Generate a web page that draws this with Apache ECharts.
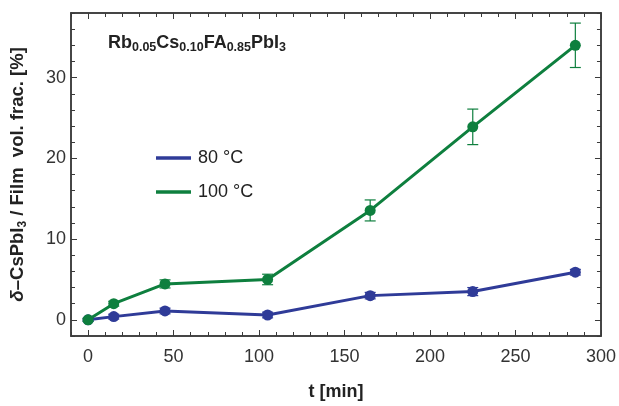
<!DOCTYPE html>
<html>
<head>
<meta charset="utf-8">
<script src="https://cdn.jsdelivr.net/npm/echarts@6/dist/echarts.min.js"></script>
<style>
  html, body { margin: 0; padding: 0; background: #fff; }
  #chart { width: 619px; height: 406px; }
</style>
</head>
<body>
<div id="chart"></div>
<script>
// Annealing time points [min]
const times = [0, 15, 45, 105, 165, 225, 285];
// delta-CsPbI3 volume fraction [%] and uncertainties
const series80 = [0, 0.4, 1.1, 0.6, 3.0, 3.5, 5.9];
const err80 = [0.15, 0.3, 0.35, 0.35, 0.4, 0.5, 0.35];
const series100 = [0, 2.0, 4.45, 5.0, 13.55, 23.9, 34.0];
const err100 = [0.2, 0.3, 0.5, 0.65, 1.3, 2.2, 2.75];
const seriesNames = ['80 °C', '100 °C'];

// Tick positions
const xMajorTicks = [0, 50, 100, 150, 200, 250, 300];
const xMinorTicks = [-10, 0, 10, 20, 30, 40, 50, 60, 70, 80, 90, 100, 110, 120, 130, 140, 150,
  160, 170, 180, 190, 200, 210, 220, 230, 240, 250, 260, 270, 280, 290, 300];
const yMajorTicks = [0, 10, 20, 30];
const yMinorTicks = [-2, 0, 2, 4, 6, 8, 10, 12, 14, 16, 18, 20, 22, 24, 26, 28, 30, 32, 34, 36, 38];

const BLUE = '#2f3b98';
const GREEN = '#0e7f3e';
const AXIS = '#3a3a3a';
const FONT = '"Liberation Sans", Arial, sans-serif';

const pairs = (ys) => times.map((t, i) => [t, ys[i]]);
const errRows = (ys, es) => times.map((t, i) => [t, ys[i] - es[i], ys[i] + es[i]]);

function errorBar(color) {
  return function (params, api) {
    const x = api.value(0);
    const lo = api.coord([x, api.value(1)]);
    const hi = api.coord([x, api.value(2)]);
    const w = 5.5;
    const style = { stroke: color, lineWidth: 1.2 };
    return {
      type: 'group',
      children: [
        { type: 'line', shape: { x1: lo[0], y1: lo[1], x2: hi[0], y2: hi[1] }, style },
        { type: 'line', shape: { x1: lo[0] - w, y1: lo[1], x2: lo[0] + w, y2: lo[1] }, style },
        { type: 'line', shape: { x1: hi[0] - w, y1: hi[1], x2: hi[0] + w, y2: hi[1] }, style }
      ]
    };
  };
}

function xAx(pos, ticks, len, opts) {
  return Object.assign({
    type: 'value', position: pos, min: -10, max: 300,
    axisLine: { show: true, onZero: false, lineStyle: { color: AXIS, width: 1.5 } },
    axisTick: { show: true, inside: true, length: len, customValues: ticks, lineStyle: { color: AXIS, width: 1 } },
    axisLabel: { show: false },
    splitLine: { show: false }
  }, opts || {});
}
function yAx(pos, ticks, len, opts) {
  return Object.assign({
    type: 'value', position: pos, min: -2, max: 38,
    axisLine: { show: true, onZero: false, lineStyle: { color: AXIS, width: 1.5 } },
    axisTick: { show: true, inside: true, length: len, customValues: ticks, lineStyle: { color: AXIS, width: 1 } },
    axisLabel: { show: false },
    splitLine: { show: false }
  }, opts || {});
}

const chart = echarts.init(document.getElementById('chart'), null, { renderer: 'canvas' });

chart.setOption({
  animation: false,
  backgroundColor: '#fff',
  textStyle: { fontFamily: FONT },
  grid: { left: 71, right: 16, top: 13, bottom: 65 },
  title: {
    left: 108, top: 32, padding: 0,
    text: '{m|Rb}{s|0.05}{m|Cs}{s|0.10}{m|FA}{s|0.85}{m|PbI}{s|3}',
    textStyle: {
      rich: {
        m: { fontFamily: FONT, fontWeight: 'bold', fontSize: 18, color: '#222', lineHeight: 22 },
        s: { fontFamily: FONT, fontWeight: 'bold', fontSize: 12.5, color: '#222', lineHeight: 13, verticalAlign: 'bottom' }
      }
    }
  },
  legend: {
    orient: 'vertical', left: 151, top: 144, itemGap: 16,
    itemWidth: 35, itemHeight: 3.5, icon: 'rect',
    textStyle: { fontFamily: FONT, fontSize: 18, color: '#222', padding: [0, 0, 0, 2] },
    data: seriesNames
  },
  xAxis: [
    xAx('bottom', xMajorTicks, 6, {
      name: 't [min]', nameLocation: 'middle', nameGap: 47,
      nameTextStyle: { fontFamily: FONT, fontWeight: 'bold', fontSize: 18, color: '#222' },
      axisLabel: { show: true, customValues: xMajorTicks, margin: 12, fontFamily: FONT, fontSize: 18, color: '#333' }
    }),
    xAx('bottom', xMinorTicks, 4),
    xAx('top', xMajorTicks, 6),
    xAx('top', xMinorTicks, 4)
  ],
  yAxis: [
    yAx('left', yMajorTicks, 6, {
      name: '{d|δ}{m|–CsPbI}{s|3}{m| / Film  vol. frac. [%]}',
      nameLocation: 'middle', nameGap: 42,
      nameTextStyle: {
        rich: {
          d: { fontFamily: FONT, fontWeight: 'bold', fontStyle: 'italic', fontSize: 19, color: '#222', lineHeight: 22 },
          m: { fontFamily: FONT, fontWeight: 'bold', fontSize: 18.5, color: '#222', lineHeight: 22 },
          s: { fontFamily: FONT, fontWeight: 'bold', fontSize: 12, color: '#222', lineHeight: 13, verticalAlign: 'bottom' }
        }
      },
      axisLabel: { show: true, customValues: yMajorTicks, margin: 5, fontFamily: FONT, fontSize: 18, color: '#333' }
    }),
    yAx('left', yMinorTicks, 4),
    yAx('right', yMajorTicks, 6),
    yAx('right', yMinorTicks, 4)
  ],
  series: [
    {
      name: seriesNames[0], type: 'line', data: pairs(series80),
      xAxisIndex: 0, yAxisIndex: 0, z: 3,
      color: BLUE, lineStyle: { width: 3, color: BLUE },
      symbol: 'circle', symbolSize: 11, itemStyle: { color: BLUE }
    },
    {
      name: seriesNames[1], type: 'line', data: pairs(series100),
      xAxisIndex: 0, yAxisIndex: 0, z: 3,
      color: GREEN, lineStyle: { width: 3, color: GREEN },
      symbol: 'circle', symbolSize: 11, itemStyle: { color: GREEN }
    },
    {
      type: 'custom', data: errRows(series80, err80), renderItem: errorBar(BLUE),
      xAxisIndex: 0, yAxisIndex: 0, z: 2, encode: { x: 0, y: [1, 2] }
    },
    {
      type: 'custom', data: errRows(series100, err100), renderItem: errorBar(GREEN),
      xAxisIndex: 0, yAxisIndex: 0, z: 2, encode: { x: 0, y: [1, 2] }
    }
  ]
});
</script>
</body>
</html>
